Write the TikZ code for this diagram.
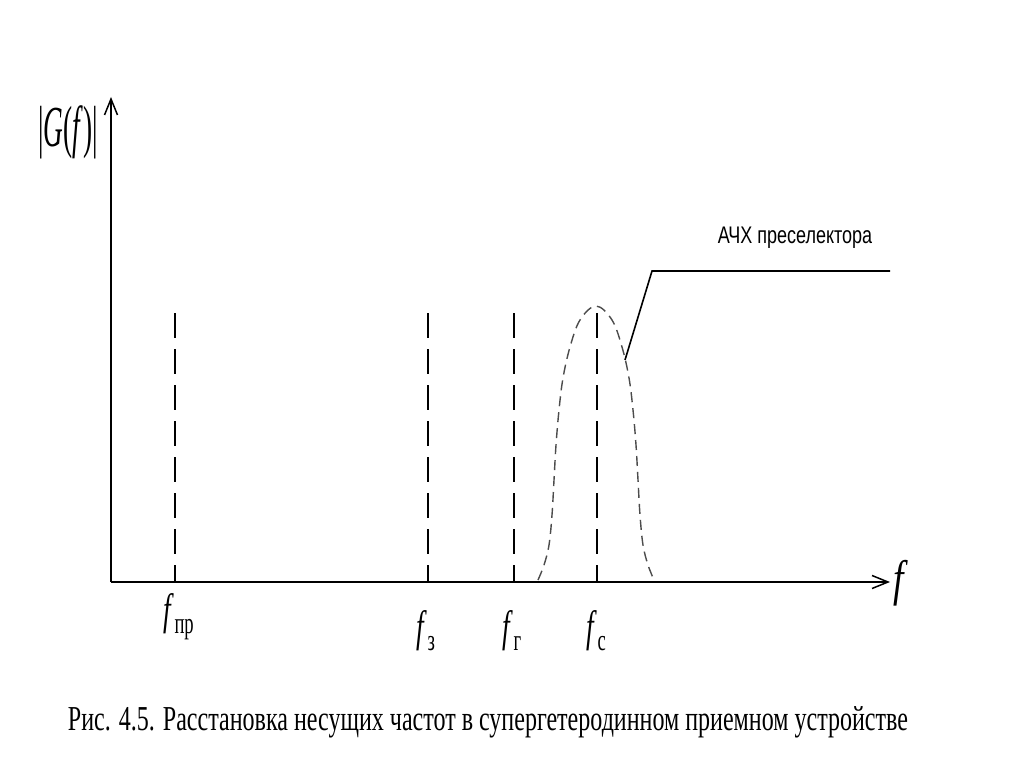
\documentclass[tikz,border=0pt]{standalone}
\usepackage{graphicx}
\usepackage{fontspec}
\setmainfont{Liberation Serif}
\newfontfamily\sansf{Liberation Sans}
\usetikzlibrary{arrows.meta}
\newcommand{\flab}[1]{\scalebox{0.62}[1]{\fontsize{44pt}{44pt}\selectfont\textit{f}\kern1pt\raisebox{-9pt}{\fontsize{30pt}{30pt}\selectfont #1}}}
\begin{document}
\begin{tikzpicture}[x=1pt,y=-1pt,
  axis/.style={line width=2pt,-{Straight Barb[length=16pt,width=13pt,line width=1.5pt]}},
  carrier/.style={line width=1.6pt,dash pattern=on 25pt off 11pt},
  bell/.style={line width=1.4pt,dash pattern=on 10pt off 6pt,black!70},
  lead/.style={line width=1.6pt},
  lbl/.style={inner sep=0pt}]
\useasboundingbox (0,0) rectangle (1024,767);
\fill[white] (0,0) rectangle (1024,767);
% axes
\coordinate (O) at (111,582);
\coordinate (ytip) at (111,97);
\coordinate (xtip) at (890,582);
\draw[axis] (O) -- (ytip);
\draw[axis] (O) -- (xtip);
% carriers
\coordinate (pr) at (175,582);  \coordinate (prT) at (175,313);
\coordinate (z) at (428,582);   \coordinate (zT) at (428,313);
\coordinate (g) at (514,582);   \coordinate (gT) at (514,313);
\coordinate (c) at (597,582);   \coordinate (cT) at (597,313);
\draw[carrier] (prT) -- (pr);
\draw[carrier] (zT) -- (z);
\draw[carrier] (gT) -- (g);
\draw[carrier] (cT) -- (c);
% preselector response
\draw[bell] plot[smooth,tension=0.6] coordinates {
  (538,580) (544,565) (549,545) (552,515) (554,480) (556,445) (559,410) (563,378) (570,347) (580,320) (596,306)
  (612,320) (622,347) (629,378) (633,410) (636,445) (638,480) (640,515) (643,545) (648,565) (654,580)};
% leader
\coordinate (L1) at (625,360);
\coordinate (L2) at (652,271);
\coordinate (L3) at (890,271);
\draw[lead] (L1) -- (L2) -- (L3);
\node[lbl] (ach) at (795,238) {\scalebox{0.75}[1]{\sansf\fontsize{24pt}{24pt}\selectfont АЧХ преселектора}};
% labels
\node[lbl,anchor=base west] (lpr) at (163,624) {\flab{пр}};
\node[lbl,anchor=base west] (lz) at (416,641) {\flab{з}};
\node[lbl,anchor=base west] (lg) at (502,641) {\flab{г}};
\node[lbl,anchor=base west] (lc) at (586,641) {\flab{с}};
\node[lbl,anchor=base west] (lf) at (893,595) {\scalebox{0.75}[1]{\fontsize{50pt}{50pt}\selectfont\textit{f}}};
\node[lbl] (lG) at (68,132) {\scalebox{0.47}[1]{\fontsize{58pt}{58pt}\selectfont |\textit{G}(\textit{f})|}};
\node[lbl] (cap) at (488,722) {\resizebox{840pt}{\height}{\fontsize{35pt}{35pt}\selectfont Рис. 4.5. Расстановка несущих частот в супергетеродинном приемном устройстве}};
\end{tikzpicture}
\end{document}
